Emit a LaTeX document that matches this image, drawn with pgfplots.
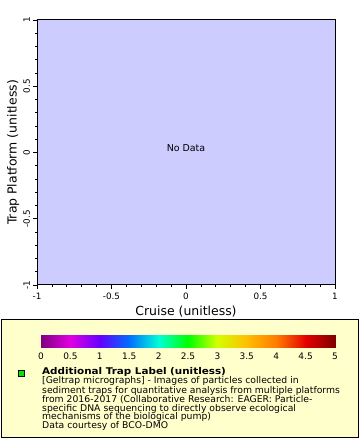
\documentclass[border=0pt]{standalone}
\usepackage{pgfplots}
\pgfplotsset{compat=1.18}
\usepackage{fontspec}
\setmainfont{DejaVu Sans}
\setsansfont{DejaVu Sans}
\definecolor{plotbg}{RGB}{204,204,255}
\definecolor{legbg}{RGB}{255,255,204}
\definecolor{mkgreen}{RGB}{0,230,0}
\begin{document}
\begin{tikzpicture}[x=1bp,y=1bp]
\useasboundingbox[fill=white] (0,0) rectangle (360,440);
\begin{axis}[at={(37bp,155bp)}, anchor=south west, scale only axis,
  width=298bp, height=265bp,
  xmin=-1, xmax=1, ymin=-1, ymax=1,
  axis background/.style={fill=plotbg},
  xtick={-1,-0.5,0,0.5,1}, ytick={-1,-0.5,0,0.5,1},
  minor tick num=4,
  tick align=outside, xtick pos=left, ytick pos=left,
  major tick length=4bp, minor tick length=2bp,
  tick style={black, line width=0.8pt},
  axis line style={line width=1pt},
  /pgf/number format/assume math mode=true,
  ticklabel style={font=\fontsize{8.8}{9}\selectfont},
  yticklabel style={xshift=-3bp, rotate=90, anchor=base, inner sep=0pt},
  xticklabel style={anchor=base, yshift=-11bp, inner sep=0pt},
  xlabel={Cruise (unitless)},
  ylabel={Trap Platform (unitless)},
  label style={font=\fontsize{12.5}{13}\selectfont},
  xlabel style={at={(axis description cs:0.5,0)}, anchor=base, yshift=-31bp, inner sep=0pt},
  ylabel style={at={(axis description cs:0,0.5)}, anchor=south, yshift=17.5bp, inner sep=0pt},
]
\addplot[draw=none] coordinates {(0,0)};
\node[font=\fontsize{9.5}{10}\selectfont] at (axis cs:0,0.03) {No Data};
\end{axis}
% legend box
\draw[line width=1bp, fill=legbg] (1,2) rectangle (358.5,120);
\begin{axis}[at={(41bp,92bp)}, anchor=south west, scale only axis,
  width=294bp, height=13bp,
  xmin=0, xmax=5, ymin=0, ymax=1,
  axis line style={draw=none},
  ytick=\empty, xtick={0,0.5,...,5},
  xtick style={draw=none},
  /pgf/number format/assume math mode=true,
  xticklabel style={font=\fontsize{9}{9}\selectfont, anchor=base, yshift=-12bp, inner sep=0pt},
  view={0}{90},
  colormap={trap}{rgb255(0)=(128,0,128) rgb255(1)=(225,0,225) rgb255(2)=(100,0,255) rgb255(3)=(0,110,255) rgb255(4)=(0,255,215) rgb255(5)=(0,255,0) rgb255(6)=(210,255,0) rgb255(7)=(255,190,0) rgb255(8)=(255,125,0) rgb255(9)=(228,0,0) rgb255(10)=(128,0,0)},
]
\addplot3[surf, shader=interp, mesh/rows=2, point meta=x] coordinates {
(0,0,0) (0.5,0,0) (1,0,0) (1.5,0,0) (2,0,0) (2.5,0,0) (3,0,0) (3.5,0,0) (4,0,0) (4.5,0,0) (5,0,0)

(0,1,0) (0.5,1,0) (1,1,0) (1.5,1,0) (2,1,0) (2.5,1,0) (3,1,0) (3.5,1,0) (4,1,0) (4.5,1,0) (5,1,0)
};
\end{axis}
\draw[line width=0.8bp, fill=mkgreen] (18,64) rectangle (24,70);
\begin{scope}[every node/.style={anchor=base west, inner sep=0pt, font=\fontsize{9.3}{9}\selectfont}]
\node[font=\bfseries\fontsize{9.3}{9}\selectfont] at (42,65) {\scalebox{1.12}[1]{Additional Trap Label (unitless)}};
\node at (42,56) {[Geltrap micrographs] - Images of particles collected in};
\node at (42,46.5) {sediment traps for quantitative analysis from multiple platforms};
\node at (42,37.5) {from 2016-2017 (Collaborative Research: EAGER: Particle-};
\node at (42,28.5) {specific DNA sequencing to directly observe ecological};
\node at (42,20) {mechanisms of the biological pump)};
\node at (42,11) {Data courtesy of BCO-DMO};
\end{scope}
\end{tikzpicture}
\end{document}
